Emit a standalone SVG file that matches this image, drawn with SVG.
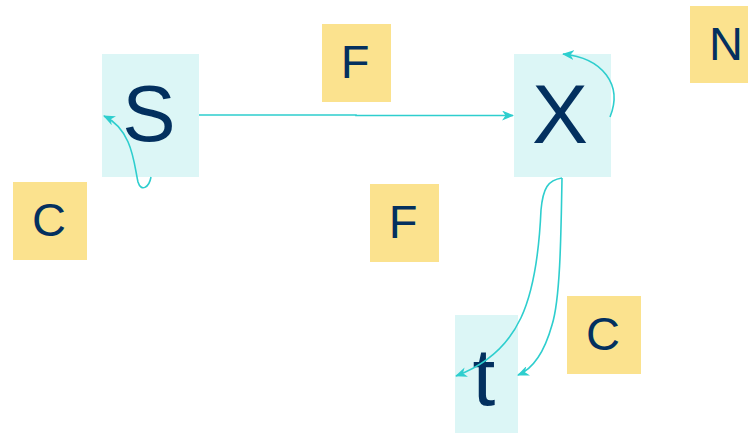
<svg xmlns="http://www.w3.org/2000/svg" width="748" height="433" viewBox="0 0 748 433">
  <style>
    .node { fill: #dcf6f6; }
    .label { fill: #fbe28e; }
    .big { font-family: "Liberation Sans", Arial, sans-serif; font-size: 80px; fill: #03305f; text-anchor: middle; }
    .small { font-family: "Liberation Sans", Arial, sans-serif; font-size: 47px; fill: #03305f; text-anchor: middle; }
    .edge { fill: none; stroke: #2ecece; stroke-width: 1.6; marker-end: url(#arrow); }
  </style>
  <defs>
    <marker id="arrow" viewBox="0 0 12 10" refX="11" refY="5" markerWidth="12" markerHeight="10" markerUnits="userSpaceOnUse" orient="auto">
      <path d="M0,0 L12,5 L0,10 L3.5,5 Z" fill="#2ecece"/>
    </marker>
  </defs>

  <!-- label boxes -->
  <g id="label-F-top"><rect class="label" x="322" y="24" width="69" height="78"/><text class="small" x="355" y="78">F</text></g>
  <g id="label-F-mid"><rect class="label" x="370" y="184" width="69" height="78"/><text class="small" x="403" y="238">F</text></g>
  <g id="label-C-left"><rect class="label" x="13" y="182" width="74" height="78"/><text class="small" x="49" y="236">C</text></g>
  <g id="label-C-right"><rect class="label" x="567" y="296" width="74" height="78"/><text class="small" x="603" y="350">C</text></g>
  <g id="label-N"><rect class="label" x="690" y="6" width="74" height="77"/><text class="small" x="726" y="60">N</text></g>

  <!-- nodes -->
  <g id="node-S"><rect class="node" x="102" y="54" width="97" height="123"/><text class="big" x="149" y="141">S</text></g>
  <g id="node-X"><rect class="node" x="514" y="54" width="97" height="123"/><text class="big" x="560" y="143" style="font-size:84px">X</text></g>
  <g id="node-t"><rect class="node" x="455" y="315" width="63" height="118"/><text class="big" x="484" y="405" style="font-size:82px">t</text></g>

  <!-- connectors -->
  <g id="edges">
    <path class="edge" d="M199,115 L356,115 L356,115.5 L513,115.5"/>
    <path class="edge" d="M151,177 C149,188 141,192 138,182 C134,165 133,130 104,116"/>
    <path class="edge" d="M610,117 C623,85 603,58 563,54"/>
    <path class="edge" d="M562,178 C548,180 543,188 541,210 C537,300 520,352 456,376"/>
    <path class="edge" d="M562,178 C561,240 560,300 552,325 C545,350 535,368 518,375"/>
  </g>
</svg>
